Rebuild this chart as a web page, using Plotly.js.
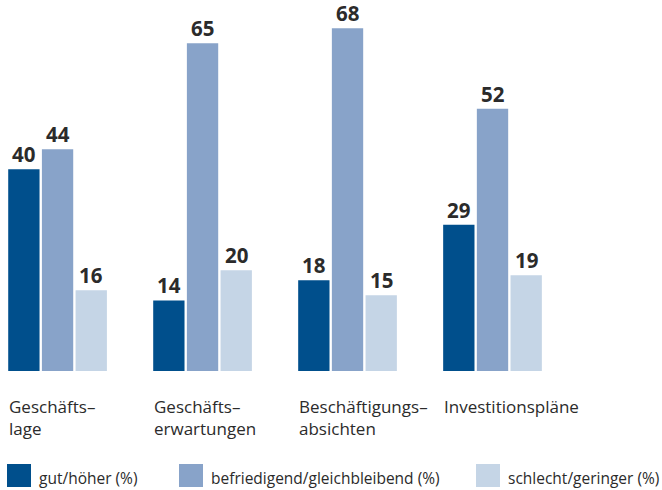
<!DOCTYPE html>
<html>
<head>
<meta charset="utf-8">
<script src="https://cdn.plot.ly/plotly-3.0.1.min.js"></script>
<style>html,body{margin:0;padding:0;background:#fff;}#chart{width:662px;height:490px;}</style>
</head>
<body>
<div id="chart"></div>
<script>
const categories = ["Geschäfts–<br>lage", "Geschäfts–<br>erwartungen", "Beschäftigungs–<br>absichten", "Investitionspläne"];
const seriesNames = ["gut/höher (%)", "befriedigend/gleichbleibend (%)", "schlecht/geringer (%)"];
const gut = [40, 14, 18, 29];
const befriedigend = [44, 65, 68, 52];
const schlecht = [16, 20, 15, 19];
const colors = ["#004f8c", "#88a3c9", "#c5d5e6"];

const seriesValues = [gut, befriedigend, schlecht];
const idx = categories.map((c, i) => i);
const textColor = "#2b2b2b";
const bargap = 0.303;
const slot = (1 - bargap) / seriesValues.length;

const traces = seriesValues.map((vals, s) => ({
  type: "bar",
  x: idx,
  y: vals,
  name: seriesNames[s],
  marker: {color: colors[s]},
  showlegend: false,
  hoverinfo: "none"
}));

const annotations = [];
// value labels
seriesValues.forEach((vals, s) => {
  vals.forEach((v, i) => {
    annotations.push({
      xref: "x", yref: "y",
      x: i + (s - 1) * slot, y: v,
      xanchor: "center", yanchor: "bottom", yshift: -1,
      text: String(v), showarrow: false,
      font: {family: "Open Sans", size: 20.5, color: textColor, weight: "bold"}
    });
  });
});

categories.forEach((c, i) => {
  annotations.push({
    xref: "x", yref: "paper",
    x: i - (1 - bargap) / 2, y: 0,
    xanchor: "left", yanchor: "top",
    yshift: -22,
    text: c, align: "left", showarrow: false,
    font: {family: "Open Sans", size: 17, color: textColor}
  });
});

// legend
const legendX = [7, 179, 476];
const shapes = [];
seriesNames.forEach((n, s) => {
  shapes.push({type: "rect", xref: "paper", yref: "paper",
    x0: legendX[s] / 662, x1: (legendX[s] + 24) / 662,
    y0: -93 / 361, y1: -116 / 361,
    fillcolor: colors[s], line: {width: 0}});
  annotations.push({xref: "paper", yref: "paper",
    x: (legendX[s] + 30) / 662, y: -116 / 361,
    xanchor: "left", yanchor: "bottom", yshift: -4,
    text: n, showarrow: false,
    font: {family: "Open Sans", size: 15.5, color: textColor}});
});

const layout = {
  width: 662, height: 490,
  margin: {l: 0, r: 0, t: 10, b: 119},
  paper_bgcolor: "#fff", plot_bgcolor: "#fff",
  barmode: "group",
  bargap: bargap,
  bargroupgap: 0.07,
  xaxis: {type: "linear", range: [-0.397, 4.169], showticklabels: false, showgrid: false, zeroline: false, showline: false, ticks: ""},
  yaxis: {range: [0, 71.6], visible: false, showgrid: false, zeroline: false},
  annotations: annotations,
  shapes: shapes
};

Plotly.newPlot("chart", traces, layout, {displayModeBar: false, staticPlot: true});
</script>
</body>
</html>
